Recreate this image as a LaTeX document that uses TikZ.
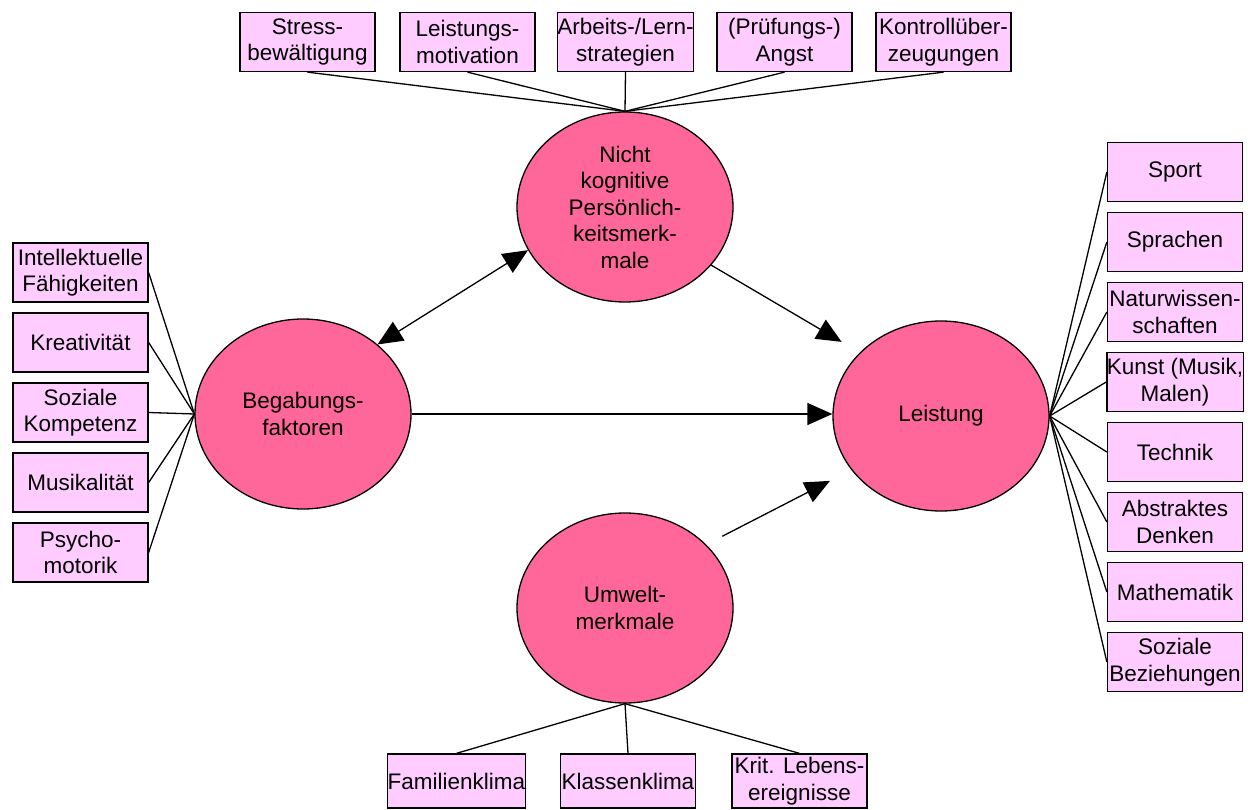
\documentclass[tikz,border=0pt]{standalone}
\usepackage{fontspec}
\setmainfont{Liberation Sans}
\usetikzlibrary{arrows.meta,shapes.geometric}
\definecolor{boxpink}{HTML}{FFCCFF}
\definecolor{ellpink}{HTML}{FF6699}
\begin{document}
\begin{tikzpicture}[x=1pt,y=-1pt,
  every node/.style={font=\fontsize{22.5pt}{26.5pt}\selectfont, align=center, inner sep=0pt},
  box/.style={draw, line width=1.3pt, fill=boxpink, minimum width=135pt, minimum height=59pt},
  bbox/.style={box, minimum height=54pt},
  ell/.style={draw, line width=1.3pt, fill=ellpink, ellipse, minimum width=216pt, minimum height=190pt},
  con/.style={line width=1.3pt},
  arr/.style={line width=1.3pt, -{Triangle[length=25pt,width=22pt]}},
  darr/.style={line width=1.3pt, {Triangle[length=25pt,width=22pt]}-{Triangle[length=25pt,width=22pt]}}
]
\useasboundingbox (0,0) rectangle (1248,810);

% ellipses
\node[ell] (nicht) at (625,207) {Nicht\\kognitive\\Persönlich-\\keitsmerk-\\male};
\node[ell] (beg) at (303,414) {Begabungs-\\faktoren};
\node[ell] (leist) at (941,416) {Leistung};
\node[ell] (umw) at (625,608) {Umwelt-\\merkmale};

% top boxes
\node[box] (t1) at (307.5,42) {Stress-\\bewältigung};
\node[box] (t2) at (467.5,42) {Leistungs-\\motivation};
\node[box] (t3) at (625.5,42) {Arbeits-/Lern-\\strategien};
\node[box] (t4) at (784.5,42) {(Prüfungs-)\\Angst};
\node[box] (t5) at (943.5,42) {Kontrollüber-\\zeugungen};

% left boxes
\node[box] (l1) at (80.5,272.5) {Intellektuelle\\Fähigkeiten};
\node[box] (l2) at (80.5,342.5) {Kreativität};
\node[box] (l3) at (80.5,412.5) {Soziale\\Kompetenz};
\node[box] (l4) at (80.5,482.5) {Musikalität};
\node[box] (l5) at (80.5,552.5) {Psycho-\\motorik};

% right boxes
\node[box] (r1) at (1175,172) {Sport};
\node[box] (r2) at (1175,242) {Sprachen};
\node[box] (r3) at (1175,312) {Naturwissen-\\schaften};
\node[box] (r4) at (1175,382) {Kunst (Musik,\\Malen)};
\node[box] (r5) at (1175,452) {Technik};
\node[box] (r6) at (1175,522) {Abstraktes\\Denken};
\node[box] (r7) at (1175,592) {Mathematik};
\node[box] (r8) at (1175,662) {Soziale\\Beziehungen};

% bottom boxes
\node[bbox] (b1) at (456.5,781) {Familienklima};
\node[bbox] (b2) at (628,781) {Klassenklima};
\node[bbox] (b3) at (799.5,781) {Krit. Lebens-\\ereignisse};

% connectors
\foreach \n in {t1,t2,t3,t4,t5} \draw[con] (\n.south) -- (nicht.north);
\foreach \n in {l1,l2,l3,l4,l5} \draw[con] (\n.east) -- (beg.west);
\foreach \n in {r1,r2,r3,r4,r5,r6,r7,r8} \draw[con] (leist.east) -- (\n.west);
\foreach \n in {b1,b2,b3} \draw[con] (umw.south) -- (\n.north);

% arrows
\draw[darr] (beg.43) -- (nicht.204);
\draw[arr, shorten >=21pt] (nicht.-34.5) -- (leist.142);
\draw[arr] (beg.east) -- (beg.east -| leist.west);
\draw[arr, shorten <=18pt, shorten >=24pt] (umw.38.6) -- (leist.211.6);
\end{tikzpicture}
\end{document}
